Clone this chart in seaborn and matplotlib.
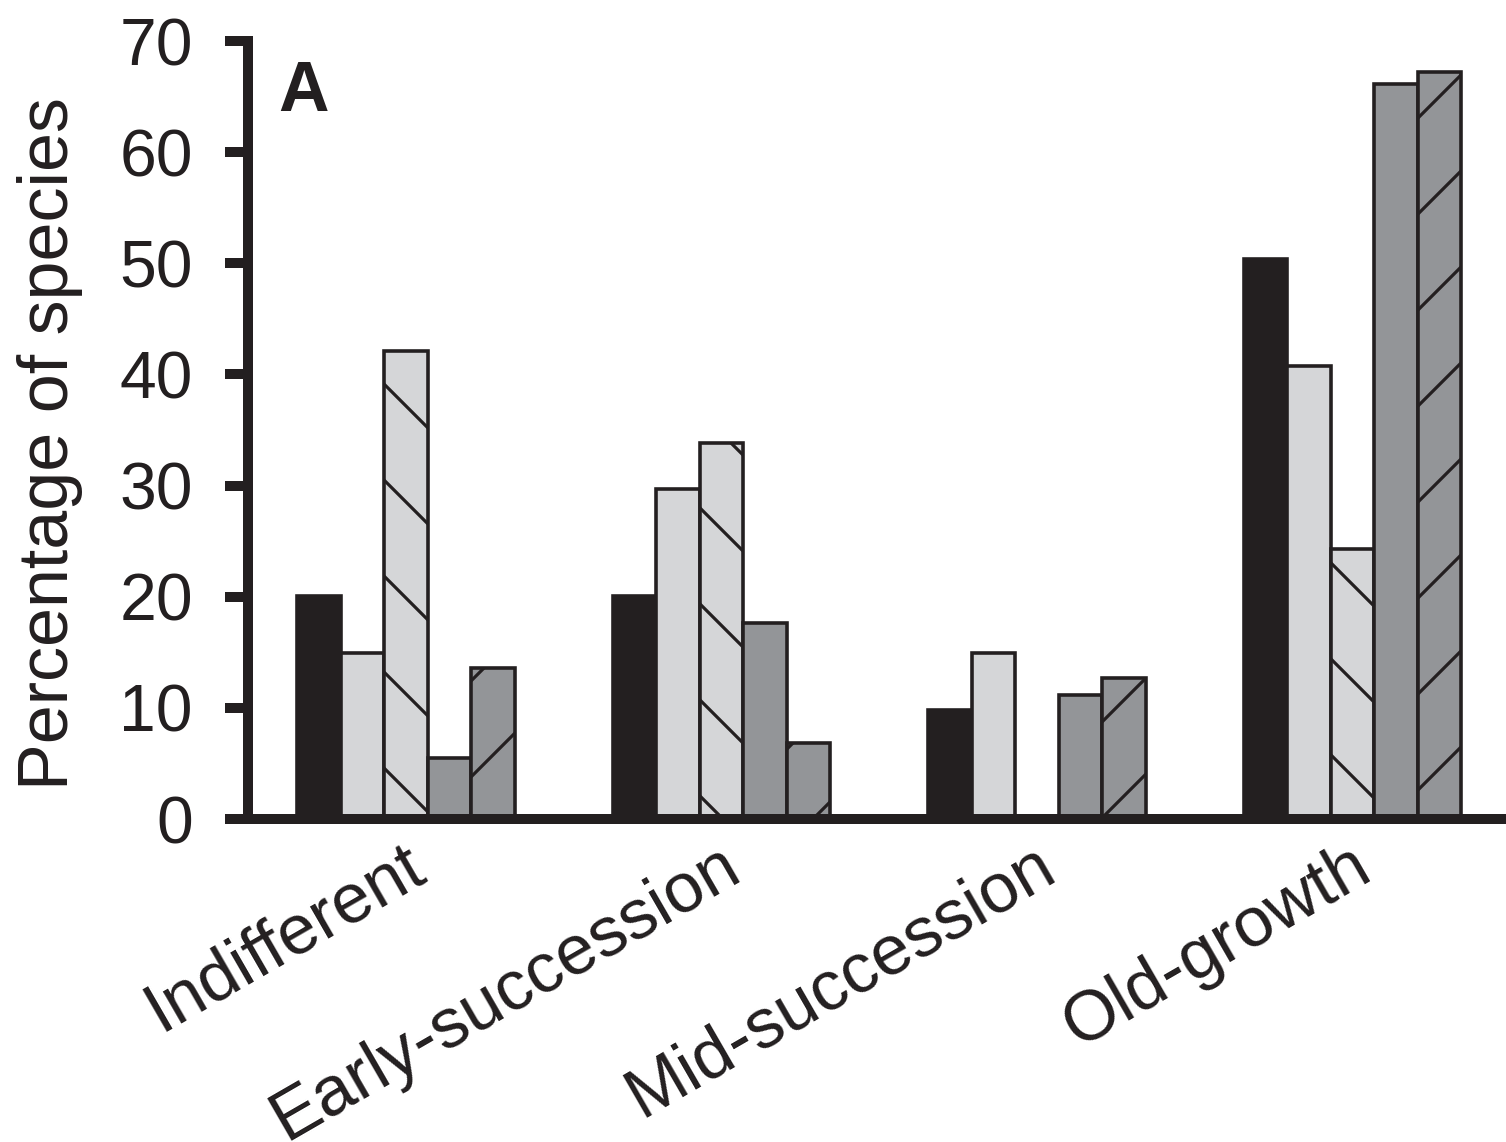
import matplotlib
matplotlib.use("Agg")
import matplotlib.pyplot as plt
import matplotlib.transforms as mtransforms
import seaborn as sns
import pandas as pd

# ---- data ----
categories = ["Indifferent", "Early-succession", "Mid-succession", "Old-growth"]
groups = ["Group 1", "Group 2", "Group 3", "Group 4", "Group 5"]
group1 = [20.1, 20.1, 9.8, 50.4]
group2 = [14.9, 29.7, 14.9, 40.8]
group3 = [42.1, 33.8, 0.0, 24.3]
group4 = [5.5, 17.6, 11.2, 66.1]
group5 = [13.6, 6.8, 12.7, 67.2]
y_ticks = [0, 10, 20, 30, 40, 50, 60, 70]
y_label = "Percentage of species"
panel_label = "A"

colors = ["#231f20", "#d5d6d8", "#d5d6d8", "#939598", "#939598"]
hatches = ["", "", "\\", "", "/"]

DPI = 288
INK = "#231f20"

sns.set_style("ticks")
plt.rcParams["font.family"] = ["Liberation Sans", "DejaVu Sans"]
plt.rcParams["hatch.linewidth"] = 0.8
plt.rcParams["hatch.color"] = INK

rows = []
for g, vals in zip(groups, [group1, group2, group3, group4, group5]):
    for c, v in zip(categories, vals):
        rows.append({"habitat": c, "group": g, "pct": v})
df = pd.DataFrame(rows)

fig = plt.figure(figsize=(1506 / DPI, 1142 / DPI), dpi=DPI)
ax = fig.add_axes([248 / 1506, 1 - 819 / 1142, 1 - 248 / 1506, (819 - 41) / 1142])

sns.barplot(data=df, x="habitat", y="pct", hue="group", order=categories,
            hue_order=groups, palette=colors, width=0.69, saturation=1,
            edgecolor=INK, linewidth=0.9, legend=False, ax=ax, errorbar=None)

for cont, h in zip(ax.containers, hatches):
    for p in cont.patches:
        p.set_hatch(h)
        p.set_edgecolor(INK)

ax.set_xlim(-0.501, 3.4865)
ax.set_ylim(0, 70)
ax.set_yticks(y_ticks)
ax.set_yticklabels([str(t) for t in y_ticks])
for s in ["top", "right"]:
    ax.spines[s].set_visible(False)
for s in ["left", "bottom"]:
    ax.spines[s].set_linewidth(2.5)
    ax.spines[s].set_color(INK)
    ax.spines[s].set_capstyle("projecting")

ax.tick_params(axis="y", length=5.75, width=2.5, color=INK, pad=8,
               labelsize=16.5, labelcolor=INK)
ax.tick_params(axis="x", length=0, pad=0, labelsize=17.5, labelcolor=INK)

ax.set_xlabel("")
ax.set_ylabel(y_label, fontsize=17.5, color=INK)
ax.yaxis.set_label_coords(-0.131, 0.483)

offset = mtransforms.ScaledTranslation(22 / DPI, -58 / DPI, fig.dpi_scale_trans)
for lab in ax.get_xticklabels():
    lab.set_rotation(30)
    lab.set_ha("right")
    lab.set_va("baseline")
    lab.set_rotation_mode("anchor")
    lab.set_transform(lab.get_transform() + offset)

ax.text(0.024, 0.91, panel_label, transform=ax.transAxes, fontsize=17.5,
        fontweight="bold", color=INK, ha="left", va="baseline")

fig.savefig("out.png", dpi=DPI)
